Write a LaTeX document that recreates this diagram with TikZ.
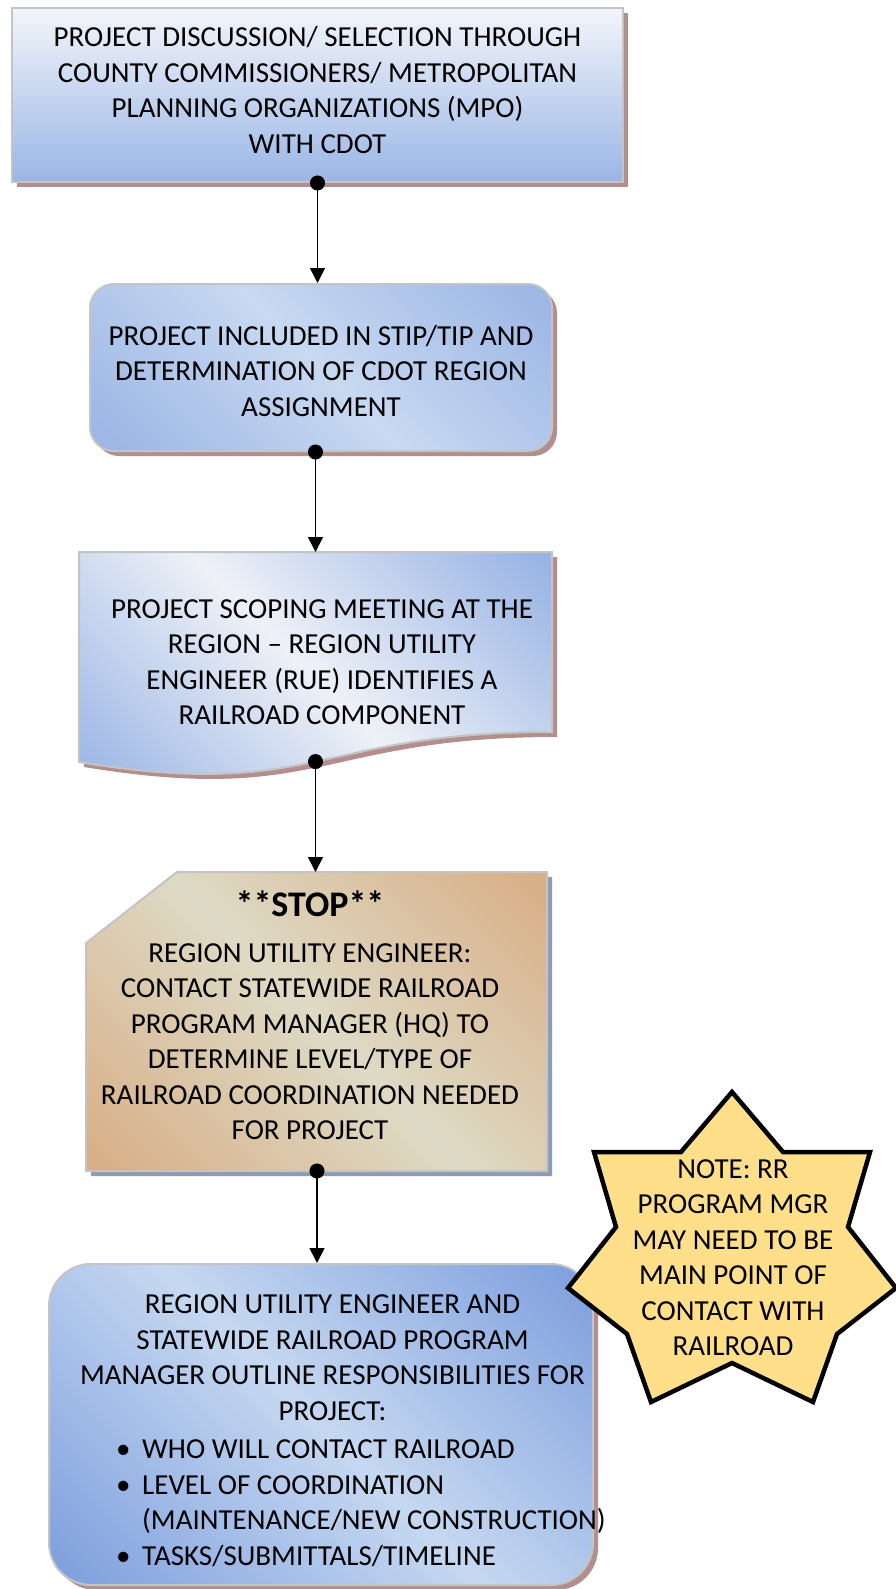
\documentclass[tikz,border=0pt]{standalone}
\usepackage{fontspec}
\setmainfont{Carlito}
\usetikzlibrary{arrows.meta,shadows,calc}

% palette
\definecolor{edgegray}{HTML}{C4C4C4}
\definecolor{rosyshade}{HTML}{B38E8E}
\definecolor{slateshade}{HTML}{8E9BB4}
\definecolor{bAtop}{HTML}{F3F5FA}
\definecolor{bAbot}{HTML}{9AB6E6}
\definecolor{bBlt}{HTML}{C8D9F1}
\definecolor{bBdk}{HTML}{9BB5E5}
\definecolor{bClt}{HTML}{EEF1F7}
\definecolor{bCdk}{HTML}{98B3E5}
\definecolor{bDlt}{HTML}{DEDAC5}
\definecolor{bDdk}{HTML}{D8AF87}
\definecolor{bElt}{HTML}{C6D8F1}
\definecolor{bEdk}{HTML}{7FA0DE}
\definecolor{starfill}{HTML}{FFDF8A}

% diagonal two-sided gradients
\pgfdeclarehorizontalshading{diagB}{100bp}{color(0bp)=(bBdk); color(16bp)=(bBdk); color(50bp)=(bBlt); color(84bp)=(bBdk); color(100bp)=(bBdk)}
\pgfdeclarehorizontalshading{diagC}{100bp}{color(0bp)=(bCdk); color(16bp)=(bCdk); color(50bp)=(bClt); color(84bp)=(bCdk); color(100bp)=(bCdk)}
\pgfdeclarehorizontalshading{diagD}{100bp}{color(0bp)=(bDdk); color(16bp)=(bDdk); color(50bp)=(bDlt); color(84bp)=(bDdk); color(100bp)=(bDdk)}
\pgfdeclarehorizontalshading{diagE}{100bp}{color(0bp)=(bEdk); color(16bp)=(bEdk); color(50bp)=(bElt); color(84bp)=(bEdk); color(100bp)=(bEdk)}

\newcommand{\bodyfont}{\fontsize{29}{35.5}\selectfont}
\newcommand{\ls}{\rule[-8.5pt]{0pt}{35.5pt}}
\newcommand{\bul}{\makebox[29pt][l]{\hspace{3pt}\textbullet}}

\begin{document}
\begin{tikzpicture}[x=1pt,y=-1pt,
  boxedge/.style={draw=edgegray,line width=2pt},
  rosy/.style={drop shadow={shadow xshift=5pt,shadow yshift=-5pt,fill=rosyshade,opacity=1}},
  slate/.style={drop shadow={shadow xshift=5pt,shadow yshift=-5pt,fill=slateshade,opacity=1}},
  txt/.style={font=\bodyfont,align=center,inner sep=0pt,text=black},
  conn/.style={line width=1.5pt,shorten <=-7.5pt,
    {Circle[length=15pt]}-{Triangle[width=15pt,length=15pt]}}
]
\fill[white] (0,0) rectangle (895,1589);
\useasboundingbox (0,0) rectangle (895,1589);

% step 1: plain rectangle
\node[boxedge,rosy,top color=bAtop,bottom color=bAbot,
  minimum width=611pt,minimum height=174pt,inner sep=0pt] (b1) at (317.5,95) {};
\node[txt] (t1) at (317.5,90.8) {\ls PROJECT DISCUSSION/ SELECTION THROUGH\\
  \ls COUNTY COMMISSIONERS/ METROPOLITAN\\
  \ls PLANNING ORGANIZATIONS (MPO)\\
  \ls WITH CDOT};

% step 2: rounded box
\node[boxedge,rosy,rounded corners=24pt,shading=diagB,shading angle=45,
  minimum width=462pt,minimum height=167pt,inner sep=0pt] (b2) at (321,367.5) {};
\node[txt] (t2) at (321,371.3) {\ls PROJECT INCLUDED IN STIP/TIP AND\\
  \ls DETERMINATION OF CDOT REGION\\
  \ls ASSIGNMENT};

% step 3: document shape with wavy foot
\path[boxedge,rosy,shading=diagC,shading angle=45]
  (79,552) -- (552,552) -- (552,732)
  .. controls (315.5,732) and (315.5,801) .. (79,762) -- cycle;
\coordinate (b3in) at (315.5,552);
\coordinate (b3out) at (315.5,761.6);
\node[txt] (t3) at (322,662.4) {\ls PROJECT SCOPING MEETING AT THE\\
  \ls REGION -- REGION UTILITY\\
  \ls ENGINEER (RUE) IDENTIFIES A\\
  \ls RAILROAD COMPONENT};

% step 4: card with clipped corner
\path[boxedge,slate,shading=diagD,shading angle=45]
  (86,943) -- (177,872) -- (547,872) -- (547,1171) -- (86,1171) -- cycle;
\coordinate (b4in) at (317,872);
\coordinate (b4out) at (317,1171);
\node[font=\fontsize{36}{40}\selectfont\bfseries,inner sep=0pt,anchor=base] (stop) at (310,916.6) {**STOP**};
\node[txt] (t4) at (310,1041.5) {\ls REGION UTILITY ENGINEER:\\
  \ls CONTACT STATEWIDE RAILROAD\\
  \ls PROGRAM MANAGER (HQ) TO\\
  \ls DETERMINE LEVEL/TYPE OF\\
  \ls RAILROAD COORDINATION NEEDED\\
  \ls FOR PROJECT};

% step 5: large rounded box with list
\node[boxedge,rosy,rounded corners=42pt,shading=diagE,shading angle=45,
  minimum width=544pt,minimum height=321pt,inner sep=0pt] (b5) at (321,1424.5) {};
\node[txt] (t5) at (332.5,1357.8) {\ls REGION UTILITY ENGINEER AND\\
  \ls STATEWIDE RAILROAD PROGRAM\\
  \ls MANAGER OUTLINE RESPONSIBILITIES FOR\\
  \ls PROJECT:};
\node[txt,align=left,anchor=west] (t5list) at (113,1502.9) {\ls\bul WHO WILL CONTACT RAILROAD\\
  \ls\bul LEVEL OF COORDINATION\\
  \ls\hspace{29pt}(MAINTENANCE/NEW CONSTRUCTION)\\
  \ls\bul TASKS/SUBMITTALS/TIMELINE};

% connectors
\draw[conn] (b1.south) -- (b1.south |- b2.north);
\draw[conn] (b3in |- b2.south) -- (b3in);
\draw[conn] (b3out) -- (b3out |- b4in);
\draw[conn] (b4out) -- (b4out |- b5.north);

% seven-pointed note star
\path[draw=black,line width=4.5pt,line join=miter,fill=starfill]
  (732,1092) -- (783,1152) -- (870,1152) -- (848,1227) -- (896,1288)
  -- (837,1334) -- (813,1402) -- (732,1363) -- (651,1402) -- (627,1334)
  -- (568,1288) -- (616,1227) -- (594,1152) -- (681,1152) -- cycle;
\node[txt] (note) at (733,1257.8) {\ls NOTE: RR\\
  \ls PROGRAM MGR\\
  \ls MAY NEED TO BE\\
  \ls MAIN POINT OF\\
  \ls CONTACT WITH\\
  \ls RAILROAD};
\end{tikzpicture}
\end{document}
